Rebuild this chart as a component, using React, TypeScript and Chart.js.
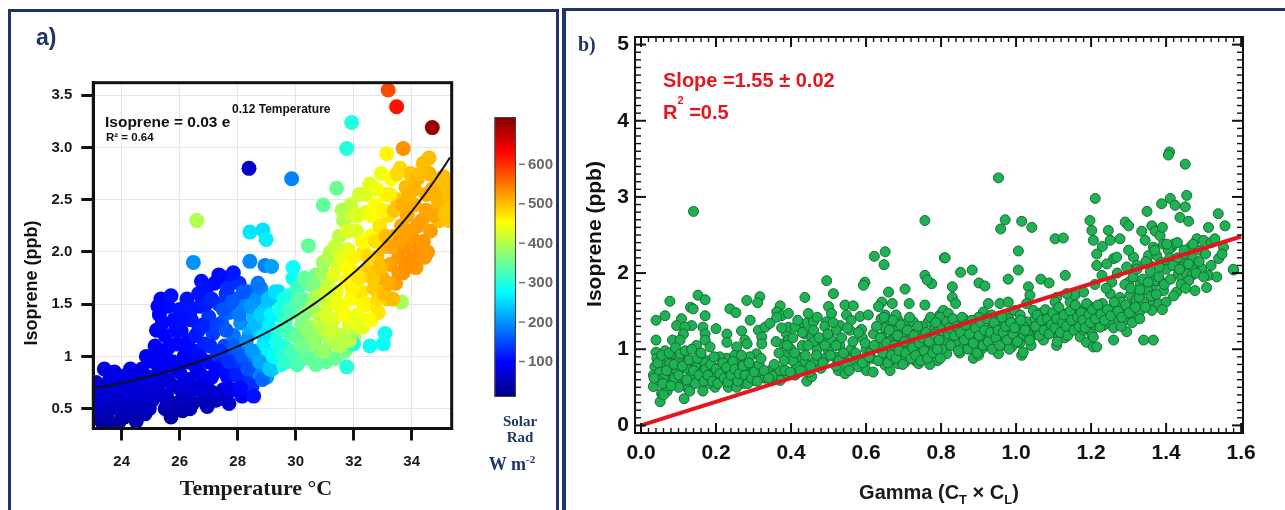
import React, { useEffect, useRef } from "react";
import { Chart, registerables } from "chart.js";

Chart.register(...registerables);

const SANS = "'Liberation Sans', Arial, Helvetica, sans-serif";
const SERIF = "'Liberation Serif', 'Times New Roman', serif";
const NAVY = "#1f3468";
const RED = "rgb(228,22,30)";

// ---------- Panel a: isoprene vs temperature, coloured by solar radiation ----------
const temperatureC = [
  23.10, 23.15, 23.12, 23.30, 23.35, 23.40, 23.30,
  23.65, 23.70, 23.75, 23.90, 23.95, 24.00, 24.05, 24.15, 24.20,
  24.35, 24.40, 24.45, 24.55, 24.60, 24.70, 24.75, 24.85, 24.90, 24.80,
  25.00, 25.05, 25.10, 25.15, 25.20, 25.25, 25.30, 25.35, 25.40, 25.45, 25.50, 25.50, 25.55, 25.60, 25.60,
  25.70, 25.75, 25.80, 25.85, 25.90, 25.95, 26.00, 26.00, 26.05, 26.10, 26.15, 26.20, 26.25, 26.30, 26.30,
  26.40, 26.45, 26.50, 26.55, 26.60, 26.65, 26.70, 26.75, 26.80, 26.85, 26.90, 26.95, 27.00, 27.00,
  27.10, 27.15, 27.20, 27.25, 27.30, 27.35, 27.40, 27.45, 27.50, 27.55, 27.60, 27.60, 27.65, 27.70, 27.70,
  27.80, 27.85, 27.90, 27.95, 28.00, 28.05, 28.10, 28.15, 28.20, 28.25, 28.30, 28.35, 28.40, 28.40, 28.39,
  28.50, 28.55, 28.60, 28.65, 28.70, 28.75, 28.80, 28.85, 28.90, 28.95, 29.00, 29.05, 29.10, 28.42, 28.87, 28.98, 28.42, 28.94, 26.47, 26.59,
  29.20, 29.20, 29.25, 29.30, 29.35, 29.40, 29.45, 29.50, 29.55, 29.60, 29.65, 29.70, 29.75, 29.80, 29.17, 29.86, 29.91, 29.90,
  29.95, 30.00, 30.05, 30.10, 30.15, 30.20, 30.25, 30.30, 30.35, 30.40, 30.45, 30.50, 30.44,
  30.60, 30.65, 30.70, 30.75, 30.80, 30.85, 30.90, 30.95, 31.00, 31.05, 31.10, 31.15, 31.20, 31.20, 30.95, 31.41,
  31.30, 31.35, 31.40, 31.45, 31.50, 31.55, 31.60, 31.65, 31.70, 31.75, 31.80, 31.85, 31.90, 31.90, 31.76, 31.76, 31.93,
  32.00, 32.05, 32.10, 32.15, 32.20, 32.25, 32.30, 32.35, 32.40, 32.45, 32.50, 32.55, 32.60, 32.60, 31.99, 32.56,
  32.70, 32.75, 32.80, 32.85, 32.90, 32.95, 33.00, 33.05, 33.10, 33.15, 33.20, 33.25, 33.30, 33.14, 33.02, 33.08, 33.19, 33.48,
  33.40, 33.45, 33.50, 33.55, 33.60, 33.65, 33.70, 33.75, 33.80, 33.85, 33.90, 33.95, 34.00, 33.65, 33.71,
  34.10, 34.15, 34.20, 34.25, 34.35, 34.40, 34.45, 34.50, 34.60, 34.65, 34.71,
  34.80, 34.85, 34.95, 35.05, 35.10, 35.20, 35.25, 35.30,
  23.20, 23.25, 23.50, 23.55, 23.60, 23.80, 23.85, 23.45,
  24.10, 24.25, 24.30, 24.50, 24.50, 24.65, 24.70, 24.95,
  25.10, 25.20, 25.30, 25.25, 25.40, 25.45, 25.55, 25.60, 25.70, 25.75, 25.80, 25.85, 25.90,
  26.05, 26.10, 26.15, 26.20, 26.30, 26.35, 26.40, 26.45, 26.55, 26.60, 26.65, 26.70, 26.80, 26.85, 26.90, 26.95, 26.75,
  27.05, 27.10, 27.15, 27.25, 27.30, 27.35, 27.40, 27.45, 27.50, 27.55, 27.60, 27.65, 27.70, 27.75, 27.80, 27.85, 27.90, 27.95,
  28.05, 28.10, 28.15, 28.20, 28.30, 28.35, 28.45, 28.50, 28.55, 28.60, 28.70, 28.75, 28.80, 28.85, 28.90,
  29.05, 29.10, 29.15, 29.25, 29.30, 29.40, 29.45, 29.50, 29.60, 29.65, 29.70, 29.80, 29.85,
  30.00, 30.05, 30.10, 30.20, 30.25, 30.30, 30.40, 30.45, 30.55, 30.60, 30.65, 30.70, 30.80, 30.85, 30.90,
  31.00, 31.05, 31.10, 31.15, 31.25, 31.30, 31.35, 31.45, 31.50, 31.55, 31.60, 31.70, 31.75, 31.80, 31.85, 31.95, 31.95,
  32.00, 32.05, 32.15, 32.20, 32.30, 32.35, 32.40, 32.50, 32.55, 32.60, 32.65, 32.75, 32.80, 32.85, 32.90,
  33.00, 33.05, 33.10, 33.20, 33.25, 33.30, 33.35, 33.40, 33.50, 33.55, 33.60, 33.70, 33.80, 33.85, 33.90,
  34.05, 34.10, 34.20, 34.30, 34.40, 34.50, 34.55, 34.70, 34.75, 34.90, 35.00, 35.15, 35.30, 34.60,
];

const isopreneA = [
  0.45, 0.60, 0.75, 0.52, 0.68, 0.88, 0.38,
  0.55, 0.72, 0.85, 0.37, 0.48, 0.62, 0.75, 0.82, 0.55,
  0.68, 0.50, 0.80, 0.62, 0.72, 0.88, 0.55, 1.00, 0.68, 0.45,
  0.80, 0.58, 0.95, 1.10, 1.25, 0.70, 1.40, 1.55, 0.88, 1.05, 0.50, 1.20, 0.62, 1.48, 0.78,
  0.42, 0.95, 1.35, 0.55, 1.12, 0.70, 1.45, 0.85, 1.25, 0.48, 1.00, 0.62, 1.55, 0.78, 1.15,
  1.35, 0.55, 0.92, 1.05, 0.70, 1.25, 1.48, 0.82, 0.58, 1.12, 1.62, 0.95, 1.38, 0.68,
  0.80, 1.22, 1.70, 0.58, 1.02, 1.50, 0.90, 1.32, 0.68, 1.10, 1.75, 1.60, 0.80, 1.42, 0.55,
  1.00, 1.20, 0.68, 1.55, 0.88, 1.70, 1.32, 0.62, 1.08, 1.48, 0.78, 1.62, 1.22, 0.95, 2.80,
  0.72, 1.38, 1.05, 1.55, 0.85, 1.25, 1.65, 0.95, 1.12, 1.45, 0.80, 1.30, 1.02, 2.19, 2.21, 2.12, 1.91, 1.87, 1.90, 2.30,
  1.55, 0.88, 1.18, 1.40, 0.98, 1.62, 1.25, 0.92, 1.48, 1.10, 1.35, 0.95, 1.58, 1.22, 1.86, 2.70, 1.85, 1.75,
  1.02, 1.42, 1.65, 0.95, 1.18, 1.30, 1.55, 1.00, 1.42, 1.70, 1.12, 1.28, 2.06,
  0.98, 1.55, 1.78, 1.20, 1.40, 1.05, 1.65, 1.90, 1.28, 0.95, 1.50, 1.75, 1.15, 2.00, 2.45, 2.61,
  1.35, 0.98, 1.62, 1.88, 2.15, 1.20, 1.45, 2.30, 1.05, 1.72, 2.02, 1.30, 2.45, 1.55, 0.90, 2.99, 3.24,
  1.18, 1.80, 2.20, 1.40, 2.55, 1.62, 1.28, 2.00, 2.38, 1.50, 1.82, 2.65, 1.35, 2.15, 1.12, 1.10,
  1.65, 2.45, 1.95, 1.42, 2.25, 2.75, 1.75, 2.05, 2.55, 1.55, 2.35, 1.88, 2.70, 2.94, 1.12, 1.22, 3.55, 3.39,
  2.15, 1.70, 2.50, 1.95, 2.80, 2.25, 1.80, 2.05, 2.62, 2.35, 1.90, 2.75, 2.15, 1.52, 2.99,
  2.45, 1.85, 2.70, 2.05, 2.30, 2.85, 1.95, 2.55, 2.75, 2.20, 3.19,
  2.40, 2.65, 2.30, 2.55, 2.72, 2.42, 2.65, 2.30,
  0.58, 0.72, 0.45, 0.62, 0.80, 0.66, 0.52, 0.35,
  0.42, 0.65, 0.88, 0.38, 0.72, 0.58, 0.80, 0.50,
  0.68, 0.82, 1.00, 1.48, 1.32, 0.62, 0.95, 1.08, 1.58, 0.72, 0.48, 1.25, 0.88,
  0.58, 1.35, 0.75, 1.10, 0.95, 0.50, 1.45, 0.68, 1.20, 0.85, 1.60, 1.00, 1.30, 0.72, 1.50, 0.52, 1.72,
  1.10, 1.55, 0.65, 0.88, 1.30, 1.78, 1.05, 0.60, 1.45, 0.85, 1.25, 1.65, 0.95, 0.68, 1.52, 1.80, 1.10, 0.82,
  1.40, 0.70, 1.00, 1.62, 1.15, 0.88, 1.48, 1.05, 0.62, 1.30, 1.70, 0.95, 1.40, 0.78, 1.20,
  1.55, 0.88, 1.40, 1.00, 1.62, 1.12, 1.45, 1.02, 1.55, 0.95, 1.25, 1.45, 1.05,
  1.20, 0.92, 1.55, 1.10, 1.40, 1.75, 1.25, 0.98, 1.48, 1.68, 1.15, 0.92, 1.58, 1.30, 1.80,
  1.05, 1.62, 1.38, 1.95, 1.25, 1.78, 2.05, 1.50, 1.10, 1.95, 2.40, 1.40, 1.85, 2.20, 1.15, 1.65, 2.35,
  1.95, 1.35, 2.35, 1.75, 2.10, 1.50, 2.55, 1.95, 1.35, 2.35, 1.75, 2.10, 2.60, 1.55, 1.85,
  2.40, 1.60, 2.15, 1.70, 2.55, 2.05, 1.55, 2.40, 2.75, 1.80, 2.10, 2.45, 1.85, 2.20, 2.55,
  1.95, 2.60, 2.25, 2.75, 2.10, 2.40, 2.00, 2.60, 2.35, 2.50, 2.70, 2.35, 2.55, 2.90,
];

// solar radiation, W m-2
const solarRad = [
  60, 70, 75, 55, 70, 80, 45,
  60, 75, 80, 40, 55, 65, 75, 80, 60,
  70, 55, 80, 65, 75, 85, 60, 90, 70, 50,
  80, 60, 90, 95, 100, 70, 100, 100, 85, 95, 45, 100, 60, 105, 75,
  35, 90, 105, 50, 100, 70, 110, 85, 105, 40, 95, 60, 110, 80, 105,
  115, 50, 95, 105, 70, 120, 115, 90, 55, 120, 110, 105, 135, 70,
  95, 140, 105, 55, 130, 135, 115, 160, 80, 150, 110, 135, 105, 170, 60,
  150, 180, 95, 160, 140, 130, 200, 90, 185, 190, 130, 170, 220, 180, 60,
  130, 230, 230, 200, 190, 250, 190, 230, 265, 240, 210, 270, 270, 260, 255, 265, 195, 190, 200, 400,
  250, 250, 290, 280, 285, 260, 305, 300, 300, 315, 320, 315, 300, 335, 210, 190, 280, 285,
  330, 345, 320, 330, 355, 365, 350, 345, 375, 345, 370, 390, 345,
  350, 385, 360, 395, 410, 370, 400, 385, 420, 345, 425, 410, 400, 400, 345, 350,
  430, 350, 440, 425, 410, 410, 445, 400, 360, 455, 440, 430, 415, 455, 300, 300, 300,
  400, 465, 430, 450, 420, 470, 435, 470, 440, 470, 490, 435, 450, 455, 290, 285,
  490, 450, 500, 470, 470, 445, 510, 505, 460, 490, 475, 515, 455, 460, 280, 285, 580, 620,
  510, 520, 495, 525, 480, 515, 525, 530, 500, 515, 530, 495, 525, 390, 530,
  510, 525, 505, 530, 520, 500, 525, 510, 505, 520, 700,
  505, 505, 500, 500, 500, 495, 500, 495,
  65, 72, 50, 65, 78, 68, 55, 40,
  45, 68, 82, 42, 72, 60, 80, 52,
  70, 82, 92, 100, 102, 62, 92, 98, 108, 70, 45, 105, 88,
  55, 108, 75, 102, 95, 45, 112, 68, 115, 85, 112, 102, 122, 72, 118, 50, 110,
  125, 125, 65, 100, 145, 105, 130, 62, 155, 105, 160, 130, 130, 85, 160, 115, 165, 120,
  185, 105, 160, 160, 200, 155, 205, 205, 110, 230, 180, 215, 245, 170, 260,
  235, 240, 270, 275, 255, 295, 295, 300, 295, 310, 325, 325, 325,
  345, 330, 340, 355, 365, 345, 375, 345, 385, 365, 380, 345, 400, 405, 385,
  380, 420, 430, 400, 420, 435, 415, 445, 400, 435, 400, 450, 455, 430, 405, 460, 420,
  460, 440, 430, 470, 455, 460, 430, 480, 450, 450, 490, 475, 445, 480, 500,
  460, 500, 500, 510, 465, 515, 500, 495, 480, 525, 520, 510, 530, 520, 505,
  530, 505, 520, 500, 525, 515, 525, 510, 515, 505, 500, 495, 500, 500,
];

const tempTicks = [24, 26, 28, 30, 32, 34];
const isoTicksA = [0.5, 1, 1.5, 2, 2.5, 3, 3.5];
const isoTickLabelsA = ["0.5", "1", "1.5", "2.0", "2.5", "3.0", "3.5"];
const radTicks = [100, 200, 300, 400, 500, 600];
const radRange = [10, 720];

// exponential trend line through the cloud
const trendOffset = 0.4;
const trendScale = 0.29;
const trendRate = 0.175;
const trendT0 = 23;

// ---------- Panel b: isoprene vs emission activity factor ----------
const gamma = [
  0.14, 0.152, 0.171, 0.077, 0.132, 0.139, 0.064, 0.04, 0.171, 0.237,
  0.253, 0.282, 0.317, 0.311, 0.371, 0.362, 0.375, 0.291, 0.108, 0.135,
  0.095, 0.117, 0.165, 0.171, 0.2, 0.229, 0.268, 0.277, 0.283, 0.313,
  0.322, 0.331, 0.344, 0.362, 0.379, 0.388, 0.393, 0.04, 0.084, 0.113,
  0.104, 0.148, 0.171, 0.184, 0.229, 0.255,

  0.040, 0.042, 0.037, 0.033, 0.033, 0.055, 0.051, 0.064, 0.069, 0.060,
  0.077, 0.086, 0.082, 0.073, 0.095, 0.113, 0.117, 0.131, 0.135, 0.126,
  0.115, 0.148, 0.153, 0.166, 0.175, 0.184, 0.193, 0.197, 0.211, 0.215,
  0.229, 0.237, 0.233, 0.255, 0.264, 0.277, 0.282, 0.273, 0.295, 0.300,
  0.304, 0.308, 0.322, 0.335, 0.344, 0.362, 0.371, 0.388, 0.371, 0.348,
  0.255, 0.180, 0.095, 0.05, 0.06, 0.09, 0.10, 0.12, 0.14, 0.16,
  0.20, 0.22, 0.24, 0.26, 0.28, 0.29, 0.31, 0.33, 0.35, 0.10,
  0.07, 0.06, 0.13, 0.165, 0.17, 0.21, 0.25, 0.045, 0.035,

  0.757, 0.622, 0.651, 0.648, 0.809, 0.757, 0.775, 0.763, 0.597, 0.593,
  0.495, 0.513, 0.437, 0.660, 0.704, 0.715, 0.757, 0.670, 0.642, 0.500,
  0.544, 0.566, 0.393, 0.446, 0.442, 0.420, 0.460, 0.508, 0.495, 0.548,
  0.531, 0.557, 0.584, 0.606, 0.588, 0.633, 0.651, 0.664, 0.677, 0.686,
  0.700, 0.713, 0.726, 0.740, 0.766, 0.797, 0.437, 0.411, 0.455, 0.482,
  0.508, 0.393, 0.642, 0.668, 0.695, 0.722, 0.748, 0.775, 0.802, 0.389,
  0.420, 0.437, 0.464, 0.491, 0.517, 0.544, 0.562, 0.571, 0.597, 0.615,
  0.642, 0.660, 0.677, 0.695, 0.713, 0.731, 0.757, 0.784, 0.802, 0.384,
  0.411, 0.442, 0.455, 0.526, 0.544, 0.579, 0.601, 0.619, 0.651, 0.664,
  0.686, 0.704, 0.740, 0.40, 0.43, 0.47, 0.50, 0.53, 0.56, 0.60,
  0.63, 0.65, 0.67, 0.69, 0.71, 0.73, 0.75, 0.68, 0.72, 0.66,
  0.70, 0.74, 0.62, 0.61, 0.58, 0.55, 0.52, 0.48, 0.46, 0.45,
  0.415, 0.405, 0.52, 0.49, 0.47, 0.56, 0.59, 0.64, 0.76, 0.78,
  0.79, 0.80, 0.78, 0.77,

  0.953, 0.971, 0.959, 1.015, 1.042, 1.104, 1.126, 0.811, 1.006, 1.006,
  0.852, 0.883, 0.830, 0.901, 0.917, 0.979, 1.033, 1.066, 1.088, 1.131,
  0.830, 0.839, 0.957, 0.926, 0.979, 1.037, 1.028, 1.108, 1.104, 1.144,
  1.157, 1.135, 0.806, 0.819, 0.797, 0.913, 0.935, 0.953, 0.979, 0.997,
  1.011, 1.046, 1.064, 1.091, 1.113, 1.135, 1.171, 1.193, 0.815, 0.850,
  0.877, 0.904, 0.931, 0.948, 0.975, 1.002, 1.028, 1.046, 1.064, 1.082,
  1.117, 1.144, 1.162, 1.188, 1.206, 0.859, 0.895, 0.922, 0.966, 0.988,
  1.019, 1.046, 1.073, 1.108, 1.144, 1.171, 1.202, 0.850, 0.855, 0.886,
  0.908, 0.953, 0.988, 1.015, 1.019, 1.108, 1.188, 1.206, 0.811, 0.815,
  0.802, 0.82, 0.84, 0.86, 0.88, 0.89, 0.90, 0.92, 0.94, 0.96,
  0.97, 0.98, 0.99, 1.00, 1.01, 1.03, 1.05, 1.06, 1.07, 1.08,
  1.09, 1.10, 1.12, 1.13, 1.14, 1.15, 1.16, 1.17, 1.18, 1.19,
  1.20, 0.93, 0.87, 0.85, 0.90, 1.02, 1.04, 1.11,

  1.409, 1.406, 1.451, 1.211, 1.411, 1.455, 1.388, 1.424, 1.451, 1.437,
  1.460, 1.349, 1.539, 1.513, 1.557, 1.197, 1.202, 1.246, 1.291, 1.300,
  1.335, 1.362, 1.371, 1.384, 1.206, 1.251, 1.277, 1.344, 1.366, 1.393,
  1.415, 1.420, 1.482, 1.500, 1.553, 1.215, 1.260, 1.268, 1.313, 1.353,
  1.375, 1.406, 1.442, 1.464, 1.540, 1.549, 1.215, 1.242, 1.295, 1.322,
  1.353, 1.388, 1.406, 1.446, 1.469, 1.495, 1.580, 1.229, 1.255, 1.300,
  1.331, 1.366, 1.384, 1.393, 1.433, 1.442, 1.455, 1.469, 1.513, 1.477,
  1.508, 1.251, 1.277, 1.304, 1.331, 1.357, 1.380, 1.362, 1.428, 1.197,
  1.224, 1.260, 1.286, 1.313, 1.233, 1.224, 1.206, 1.215, 1.260, 1.295,
  1.340, 1.366, 1.579, 1.17, 1.19, 1.21, 1.22, 1.23, 1.24, 1.25,
  1.26, 1.27, 1.28, 1.29, 1.30, 1.31, 1.32, 1.33, 1.34, 1.35,
  1.36, 1.37, 1.38, 1.29, 1.27, 1.24, 1.21, 1.18, 1.23, 1.30,
  1.40, 1.41, 1.39, 1.43, 1.45, 1.47, 1.49, 1.52, 1.53, 1.46,
  1.48, 1.50, 1.44, 1.42, 1.40, 1.39, 1.26, 1.28, 1.31, 1.33,

  0.045, 0.055, 0.058, 0.068, 0.075, 0.08, 0.088, 0.092, 0.1, 0.105,
  0.11, 0.118, 0.122, 0.128, 0.135, 0.14, 0.145, 0.15, 0.155, 0.16,
  0.168, 0.172, 0.178, 0.186, 0.19, 0.195, 0.2, 0.205, 0.21, 0.218,
  0.222, 0.228, 0.232, 0.24, 0.245, 0.25, 0.258, 0.262, 0.268, 0.272,
  0.278, 0.285, 0.288, 0.295, 0.302, 0.31, 0.315, 0.32, 0.328, 0.34,

  0.355, 0.36, 0.368, 0.375, 0.382, 0.39, 0.398, 0.405, 0.41, 0.418,
  0.425, 0.43, 0.438, 0.445, 0.452, 0.46, 0.468, 0.475, 0.485, 0.49,
  0.498, 0.505, 0.512, 0.52, 0.528, 0.535, 0.54, 0.55, 0.555, 0.565,
  0.572, 0.58, 0.59, 0.598, 0.608,

  0.622, 0.628, 0.632, 0.638, 0.645, 0.648, 0.655, 0.658, 0.662, 0.668,
  0.672, 0.675, 0.68, 0.684, 0.688, 0.692, 0.698, 0.702, 0.706, 0.71,
  0.716, 0.72, 0.724, 0.728, 0.732, 0.738, 0.742, 0.746, 0.75, 0.755,
  0.76, 0.764, 0.768, 0.772, 0.778, 0.782, 0.786, 0.79, 0.795, 0.798,

  0.822, 0.826, 0.832, 0.836, 0.842, 0.846, 0.852, 0.856, 0.862, 0.866,
  0.872, 0.876, 0.882, 0.886, 0.892, 0.896, 0.902, 0.906, 0.912, 0.916,
  0.922, 0.926, 0.932, 0.936, 0.942, 0.946, 0.952, 0.956, 0.962, 0.966,
  0.972, 0.976, 0.982, 0.986, 0.992, 0.996, 1.004, 1.012, 1.024, 1.036,

  1.052, 1.056, 1.062, 1.068, 1.074, 1.078, 1.084, 1.088, 1.094, 1.098,
  1.104, 1.108, 1.114, 1.118, 1.124, 1.128, 1.134, 1.138, 1.144, 1.148,
  1.154, 1.158, 1.164, 1.168, 1.174, 1.178, 1.184, 1.188, 1.194, 1.198,
  1.204, 1.212, 1.218, 1.226, 1.236, 1.244, 1.252, 1.262, 1.272, 1.282,
  1.292, 1.302, 1.318, 1.328, 1.345,

  1.305, 1.312, 1.322, 1.33, 1.338, 1.346, 1.352, 1.358, 1.37, 1.374,
  1.382, 1.395, 1.402, 1.412, 1.418, 1.43, 1.436, 1.448, 1.452, 1.46,
  1.472, 1.488, 1.505, 1.52, 1.535,
];

const isopreneB = [
  2.81, 1.71, 1.65, 1.63, 1.55, 1.53, 1.44, 1.38, 1.44, 1.53,
  1.48, 1.64, 1.69, 1.61, 1.57, 1.49, 1.44, 1.38, 1.40, 1.31,
  1.31, 1.29, 1.29, 1.20, 1.27, 1.20, 1.24, 1.12, 1.07, 1.25,
  1.16, 1.29, 1.34, 1.42, 1.07, 1.20, 1.29, 1.12, 1.12, 1.20,
  1.12, 1.05, 1.12, 1.03, 1.09, 1.03,

  0.96, 0.88, 0.77, 0.66, 0.51, 0.42, 0.31, 0.98, 0.90, 0.77,
  0.81, 0.94, 0.68, 0.59, 0.72, 0.90, 0.59, 0.85, 0.68, 0.48,
  0.35, 0.77, 0.59, 0.72, 0.85, 0.64, 0.72, 0.50, 0.77, 0.61,
  0.88, 0.72, 0.50, 0.64, 0.81, 0.85, 0.72, 0.55, 0.68, 0.77,
  0.59, 0.94, 1.07, 0.68, 0.72, 0.68, 0.72, 0.68, 0.59, 0.59,
  0.50, 0.55, 0.55, 0.70, 0.62, 0.62, 0.85, 0.75, 0.62, 0.68,
  0.65, 0.70, 0.60, 0.75, 0.60, 0.90, 0.68, 0.62, 0.65, 0.50,
  0.45, 0.40, 0.45, 0.45, 0.82, 0.90, 0.92, 0.60, 0.62,

  2.69, 2.22, 2.28, 2.11, 2.20, 1.97, 1.86, 1.91, 1.88, 1.84,
  1.90, 1.73, 1.68, 1.75, 1.79, 1.60, 1.58, 1.60, 1.62, 1.56,
  1.58, 1.57, 1.47, 1.47, 1.34, 1.31, 1.36, 1.47, 1.36, 1.45,
  1.31, 1.25, 1.43, 1.45, 1.26, 1.56, 1.45, 1.34, 1.24, 1.38,
  1.27, 1.36, 1.36, 1.24, 1.36, 1.45, 1.20, 1.29, 1.16, 1.12,
  1.12, 1.12, 1.16, 1.12, 1.16, 1.07, 1.12, 1.12, 1.20, 0.94,
  0.90, 0.83, 0.85, 0.88, 0.90, 0.94, 0.97, 0.85, 0.81, 0.88,
  0.85, 0.94, 0.85, 0.90, 0.94, 0.85, 0.90, 0.90, 0.94, 0.72,
  0.66, 0.58, 0.64, 0.72, 0.68, 0.77, 0.72, 0.70, 0.79, 0.72,
  0.81, 0.83, 0.81, 1.00, 1.05, 1.00, 0.98, 1.05, 1.00, 1.00,
  1.05, 1.28, 1.00, 1.05, 0.98, 1.00, 1.30, 1.45, 1.20, 1.10,
  0.90, 0.95, 1.20, 0.95, 0.88, 0.80, 0.78, 0.75, 1.10, 0.70,
  0.78, 0.85, 1.25, 1.30, 1.42, 1.38, 1.15, 1.40, 1.00, 1.05,
  0.85, 1.30, 1.25, 0.80,

  3.25, 2.70, 2.58, 2.68, 2.60, 2.45, 2.46, 2.20, 2.29, 2.04,
  2.01, 2.04, 1.82, 1.87, 1.83, 1.92, 1.82, 1.92, 1.87, 1.97,
  1.68, 1.60, 1.60, 1.60, 1.62, 1.71, 1.60, 1.68, 1.62, 1.62,
  1.71, 1.73, 1.51, 1.47, 1.42, 1.49, 1.45, 1.38, 1.45, 1.51,
  1.45, 1.51, 1.47, 1.47, 1.43, 1.47, 1.51, 1.43, 1.36, 1.29,
  1.25, 1.31, 1.27, 1.20, 1.29, 1.34, 1.36, 1.27, 1.36, 1.31,
  1.29, 1.34, 1.38, 1.36, 1.31, 1.16, 1.12, 1.16, 1.14, 1.23,
  1.16, 1.18, 1.12, 1.20, 1.25, 1.16, 1.20, 0.98, 1.05, 0.88,
  1.00, 0.94, 1.03, 0.92, 0.96, 1.05, 1.09, 1.03, 1.12, 0.94,
  1.00, 1.20, 1.10, 1.40, 1.35, 1.18, 1.42, 1.22, 1.30, 1.35,
  1.05, 1.40, 1.18, 1.25, 1.08, 1.22, 1.40, 1.20, 1.30, 1.45,
  1.22, 1.38, 1.40, 1.15, 1.42, 1.28, 1.45, 1.35, 1.25, 1.55,
  1.40, 1.12, 1.08, 0.95, 0.92, 1.30, 1.05, 1.10,

  3.59, 3.55, 3.43, 2.98, 2.98, 3.02, 2.91, 2.89, 2.87, 2.73,
  2.68, 2.81, 2.78, 2.60, 2.62, 2.69, 2.56, 2.56, 2.67, 2.62,
  2.55, 2.62, 2.55, 2.49, 2.43, 2.43, 2.45, 2.43, 2.34, 2.38,
  2.34, 2.38, 2.45, 2.43, 2.34, 2.25, 2.19, 2.21, 2.21, 2.23,
  2.23, 2.30, 2.17, 2.34, 2.19, 2.25, 2.10, 2.12, 2.08, 2.10,
  2.12, 2.14, 2.14, 2.08, 2.10, 2.06, 2.04, 1.97, 1.88, 1.88,
  1.86, 1.84, 1.90, 1.77, 1.99, 1.93, 1.99, 1.97, 1.97, 1.77,
  1.81, 1.73, 1.68, 1.71, 1.73, 1.64, 1.60, 1.51, 1.75, 1.56,
  1.53, 1.42, 1.51, 1.60, 1.31, 1.29, 1.16, 1.03, 1.12, 1.23,
  1.12, 1.12, 2.05, 1.45, 1.38, 1.48, 1.42, 1.60, 1.45, 1.35,
  1.55, 1.42, 1.62, 1.38, 1.55, 1.45, 1.65, 1.50, 1.62, 1.78,
  1.70, 1.90, 1.95, 1.85, 2.00, 1.80, 1.85, 1.75, 2.35, 2.30,
  2.05, 2.20, 2.60, 2.20, 2.25, 2.20, 2.30, 2.40, 2.45, 1.90,
  2.00, 1.95, 1.85, 1.70, 1.62, 1.52, 1.28, 1.30, 1.35, 1.40,

  0.82, 0.92, 0.55, 0.72, 0.95, 0.52, 0.80, 1.02, 0.66, 0.94,
  0.78, 0.98, 0.60, 0.86, 1.00, 0.72, 0.55, 0.88, 0.66, 0.95,
  0.58, 0.74, 0.66, 0.80, 0.58, 0.90, 0.74, 0.55, 0.68, 0.82,
  0.62, 0.76, 0.57, 0.66, 0.84, 0.74, 0.58, 0.68, 0.92, 0.78,
  0.66, 0.55, 0.82, 0.62, 0.70, 0.58, 0.80, 0.88, 0.72, 0.62,

  0.80, 1.10, 0.95, 1.28, 0.85, 1.05, 0.70, 1.15, 0.95, 1.38,
  0.72, 1.22, 0.92, 1.05, 0.78, 1.25, 0.92, 1.15, 0.82, 1.05,
  1.20, 0.92, 1.35, 1.05, 0.85, 1.15, 0.95, 1.28, 0.72, 1.10,
  0.95, 1.22, 0.82, 1.08, 0.90,

  1.05, 1.30, 0.85, 1.15, 0.95, 1.42, 1.08, 0.82, 1.25, 0.92,
  1.38, 1.05, 0.88, 1.18, 0.98, 1.32, 0.80, 1.10, 0.95, 1.25,
  1.42, 0.88, 1.02, 1.18, 0.92, 1.30, 1.08, 0.85, 1.15, 0.98,
  1.22, 0.88, 1.10, 1.42, 0.95, 1.20, 1.35, 1.00, 1.12, 0.88,

  1.28, 1.05, 1.40, 1.18, 1.30, 0.98, 1.22, 1.42, 1.12, 1.32,
  1.00, 1.20, 1.38, 1.08, 1.28, 0.95, 1.18, 1.35, 1.05, 1.25,
  1.40, 1.10, 1.22, 1.00, 1.35, 1.15, 1.25, 1.05, 1.42, 1.22,
  1.30, 1.12, 1.00, 1.35, 1.20, 1.28, 1.10, 1.38, 1.25, 1.12,

  1.30, 1.45, 1.18, 1.38, 1.25, 1.52, 1.40, 1.20, 1.32, 1.48,
  1.28, 1.40, 1.55, 1.22, 1.35, 1.45, 1.30, 1.18, 1.50, 1.38,
  1.25, 1.58, 1.42, 1.30, 1.48, 1.38, 1.28, 1.60, 1.45, 1.35,
  1.52, 1.40, 1.58, 1.46, 1.38, 1.52, 1.44, 1.62, 1.50, 1.42,
  1.58, 1.48, 1.55, 1.68, 1.55,

  1.80, 1.95, 2.05, 1.78, 1.92, 2.15, 1.88, 2.02, 2.30, 1.72,
  2.08, 1.85, 2.38, 1.92, 2.10, 2.40, 2.05, 2.30, 1.80, 2.12,
  2.38, 2.15, 2.25, 2.10, 1.95,
];

const gammaTicks = [0, 0.2, 0.4, 0.6, 0.8, 1.0, 1.2, 1.4, 1.6];
const gammaTickLabels = ["0.0", "0.2", "0.4", "0.6", "0.8", "1.0", "1.2", "1.4", "1.6"];
const isoTicksB = [0, 1, 2, 3, 4, 5];
const minorPerMajorX = 10;
const minorPerMajorY = 10;
const slope = 1.55;
const fitGamma = [0, 1.6];

// jet colour map, t in [0, 1]
function jet(t: number) {
  const c = (v: number) => Math.round(255 * Math.max(0, Math.min(1, v)));
  return `rgb(${c(1.5 - Math.abs(4 * t - 3))},${c(1.5 - Math.abs(4 * t - 2))},${c(1.5 - Math.abs(4 * t - 1))})`;
}
const radColor = (r: number) => jet((r - radRange[0]) / (radRange[1] - radRange[0]));

const fixedTicks = (values: number[]) => (scale: any) => {
  scale.ticks = values.map((v) => ({ value: v }));
};

// black frame drawn on top of the markers (panel a)
const frameA = {
  id: "frameA",
  afterDatasetsDraw(chart: any) {
    const { ctx, chartArea: a } = chart;
    ctx.save();
    ctx.strokeStyle = "#111";
    ctx.lineWidth = 3;
    ctx.strokeRect(a.left, a.top, a.right - a.left, a.bottom - a.top);
    ctx.restore();
  },
};

// colour bar for solar radiation (panel a)
const colorbar = {
  id: "colorbar",
  afterDraw(chart: any) {
    const ctx = chart.ctx;
    const x0 = 494.5, x1 = 516, top = 117, bottom = 397;
    const [lo, hi] = radRange;
    const py = (v: number) => bottom - ((v - lo) / (hi - lo)) * (bottom - top);
    const g = ctx.createLinearGradient(0, bottom, 0, top);
    for (let i = 0; i <= 40; i++) g.addColorStop(i / 40, jet(i / 40));
    ctx.save();
    ctx.fillStyle = g;
    ctx.fillRect(x0, top, x1 - x0, bottom - top);
    ctx.strokeStyle = "#444";
    ctx.lineWidth = 1;
    ctx.strokeRect(x0 + 0.5, top + 0.5, x1 - x0 - 1, bottom - top - 1);
    ctx.font = `bold 15px ${SANS}`;
    ctx.fillStyle = "#666";
    ctx.textBaseline = "middle";
    ctx.textAlign = "left";
    ctx.strokeStyle = "#777";
    ctx.lineWidth = 1.5;
    radTicks.forEach((v) => {
      const y = py(v);
      ctx.beginPath();
      ctx.moveTo(519, y);
      ctx.lineTo(525, y);
      ctx.stroke();
      ctx.fillText(String(v), 528, y + 0.5);
    });
    ctx.restore();
  },
};

// frame with inward major/minor ticks on all four sides (panel b)
const frameB = {
  id: "frameB",
  afterDatasetsDraw(chart: any) {
    const { ctx, chartArea: a, scales } = chart;
    const xs = scales.x, ys = scales.y;
    ctx.save();
    ctx.strokeStyle = "#111";
    const seg = (x1: number, y1: number, x2: number, y2: number, w: number) => {
      ctx.lineWidth = w;
      ctx.beginPath();
      ctx.moveTo(x1, y1);
      ctx.lineTo(x2, y2);
      ctx.stroke();
    };
    const xStep = (gammaTicks[1] - gammaTicks[0]) / minorPerMajorX;
    const nX = Math.round((gammaTicks[gammaTicks.length - 1] - gammaTicks[0]) / xStep);
    for (let i = 0; i <= nX; i++) {
      const major = i % minorPerMajorX === 0;
      const px = xs.getPixelForValue(gammaTicks[0] + i * xStep);
      const L = major ? 10 : 5;
      const w = major ? 2 : 1.4;
      seg(px, a.bottom, px, a.bottom - L, w);
      seg(px, a.top, px, a.top + L, w);
    }
    const yStep = (isoTicksB[1] - isoTicksB[0]) / minorPerMajorY;
    const nY = Math.round((isoTicksB[isoTicksB.length - 1] - isoTicksB[0]) / yStep);
    for (let i = 0; i <= nY; i++) {
      const major = i % minorPerMajorY === 0;
      const py = ys.getPixelForValue(isoTicksB[0] + i * yStep);
      const L = major ? 11 : 6;
      const w = major ? 2 : 1.4;
      seg(a.left, py, a.left + L, py, w);
      seg(a.right, py, a.right - L, py, w);
    }
    ctx.lineWidth = 2;
    ctx.strokeRect(a.left, a.top, a.right - a.left, a.bottom - a.top);
    ctx.restore();
  },
};

type LabelProps = {
  x: number;
  base: number;
  size: number;
  serif?: boolean;
  color?: string;
  center?: boolean;
  children: React.ReactNode;
};

function Label({ x, base, size, serif, color = "#111", center, children }: LabelProps) {
  const k = serif ? 0.8375 : 0.8465;
  return (
    <div
      style={{
        position: "absolute",
        left: x,
        top: base - k * size,
        fontSize: size,
        lineHeight: `${size}px`,
        fontFamily: serif ? SERIF : SANS,
        fontWeight: 700,
        color,
        whiteSpace: "nowrap",
        transform: center ? "translateX(-50%)" : undefined,
      }}
    >
      {children}
    </div>
  );
}

function VLabel({ cx, cy, size, children }: { cx: number; cy: number; size: number; children: React.ReactNode }) {
  return (
    <div
      style={{
        position: "absolute",
        left: cx,
        top: cy,
        fontSize: size,
        lineHeight: `${size}px`,
        fontFamily: SANS,
        fontWeight: 700,
        color: "#111",
        whiteSpace: "nowrap",
        transform: "translate(-50%, -50%) rotate(-90deg)",
      }}
    >
      {children}
    </div>
  );
}

export default function App() {
  const refA = useRef<HTMLCanvasElement | null>(null);
  const refB = useRef<HTMLCanvasElement | null>(null);

  useEffect(() => {
    if (!refA.current || !refB.current) return;

    const xMinA = 23.02, xMaxA = 35.38;
    const trend: { x: number; y: number }[] = [];
    for (let t = xMinA; t <= xMaxA + 1e-9; t += 0.1) {
      trend.push({ x: t, y: trendOffset + trendScale * Math.exp(trendRate * (t - trendT0)) });
    }

    const tickFontA = { family: SANS, size: 15, weight: "bold" as const };

    const chartA = new Chart(refA.current, {
      type: "scatter",
      data: {
        datasets: [
          {
            type: "line",
            data: trend,
            borderColor: "#111",
            borderWidth: 2,
            pointRadius: 0,
            fill: false,
            tension: 0,
            order: 0,
            clip: 0,
          } as any,
          {
            type: "scatter",
            data: temperatureC.map((t, i) => ({ x: t, y: isopreneA[i] })),
            pointRadius: 7.5,
            pointBackgroundColor: solarRad.map(radColor),
            pointBorderWidth: 0,
            order: 1,
            clip: 0,
          } as any,
        ],
      },
      options: {
        responsive: false,
        animation: false,
        events: [],
        layout: { padding: { left: 0, top: 82.7, right: 108.3, bottom: 0 } },
        plugins: { legend: { display: false }, tooltip: { enabled: false } },
        scales: {
          x: {
            type: "linear",
            min: xMinA,
            max: xMaxA,
            afterBuildTicks: fixedTicks(tempTicks),
            afterFit: (s: any) => {
              s.height = 81.5;
            },
            ticks: {
              autoSkip: false,
              maxRotation: 0,
              padding: 12,
              color: "#1a1a1a",
              font: tickFontA,
              callback: (v: any) => String(v),
            },
            grid: { color: "#e6e6e6", lineWidth: 1, tickColor: "#111", tickWidth: 3, tickLength: 12 },
            border: { display: true, color: "#111", width: 3 },
          },
          y: {
            type: "linear",
            min: 0.31,
            max: 3.62,
            afterBuildTicks: fixedTicks(isoTicksA),
            afterFit: (s: any) => {
              s.width = 93.3;
            },
            ticks: {
              autoSkip: false,
              padding: 9,
              color: "#1a1a1a",
              font: tickFontA,
              callback: (v: any) => {
                const i = isoTicksA.indexOf(v);
                return i >= 0 ? isoTickLabelsA[i] : "";
              },
            },
            grid: { color: "#e6e6e6", lineWidth: 1, tickColor: "#111", tickWidth: 3, tickLength: 12 },
            border: { display: true, color: "#111", width: 3 },
          },
        },
      },
      plugins: [frameA, colorbar],
    });

    const tickFontB = { family: SANS, size: 21, weight: "bold" as const };

    const chartB = new Chart(refB.current, {
      type: "scatter",
      data: {
        datasets: [
          {
            type: "line",
            data: fitGamma.map((g) => ({ x: g, y: slope * g })),
            borderColor: RED,
            borderWidth: 4,
            pointRadius: 0,
            fill: false,
            order: 0,
            clip: 0,
          } as any,
          {
            type: "scatter",
            data: gamma.map((g, i) => ({ x: g, y: isopreneB[i] })),
            pointRadius: 5,
            pointBackgroundColor: "rgb(30,178,84)",
            pointBorderColor: "rgb(22,108,50)",
            pointBorderWidth: 1,
            order: 1,
            clip: 0,
          } as any,
        ],
      },
      options: {
        responsive: false,
        animation: false,
        events: [],
        layout: { padding: { left: 0, top: 37, right: 42, bottom: 0 } },
        plugins: { legend: { display: false }, tooltip: { enabled: false } },
        scales: {
          x: {
            type: "linear",
            min: -0.016,
            max: 1.605,
            afterBuildTicks: fixedTicks(gammaTicks),
            afterFit: (s: any) => {
              s.height = 77;
            },
            ticks: {
              autoSkip: false,
              maxRotation: 0,
              padding: 8,
              color: "#111",
              font: tickFontB,
              callback: (v: any) => {
                const i = gammaTicks.indexOf(v);
                return i >= 0 ? gammaTickLabels[i] : "";
              },
            },
            grid: { display: false, drawTicks: false },
            border: { display: false },
          },
          y: {
            type: "linear",
            min: -0.1,
            max: 5.1,
            afterBuildTicks: fixedTicks(isoTicksB),
            afterFit: (s: any) => {
              s.width = 73;
            },
            ticks: {
              autoSkip: false,
              padding: 6,
              color: "#111",
              font: tickFontB,
              callback: (v: any) => String(v),
            },
            grid: { display: false, drawTicks: false },
            border: { display: false },
          },
        },
      },
      plugins: [frameB],
    });

    return () => {
      chartA.destroy();
      chartB.destroy();
    };
  }, []);

  const sup = (size: number, shift: number): React.CSSProperties => ({
    fontSize: size,
    position: "relative",
    top: shift,
  });

  return (
    <div
      style={{
        position: "fixed",
        left: 0,
        top: 0,
        width: 1285,
        height: 510,
        background: "#fff",
        overflow: "hidden",
      }}
    >
      <div
        style={{
          position: "absolute",
          left: 8,
          top: 9,
          width: 551,
          height: 520,
          boxSizing: "border-box",
          borderTop: `3px solid ${NAVY}`,
          borderLeft: `3px solid ${NAVY}`,
          borderRight: `3px solid ${NAVY}`,
        }}
      />
      <div
        style={{
          position: "absolute",
          left: 562,
          top: 8,
          width: 740,
          height: 520,
          boxSizing: "border-box",
          borderTop: `3px solid ${NAVY}`,
          borderLeft: `4px solid ${NAVY}`,
        }}
      />

      <canvas ref={refA} width={560} height={510} style={{ position: "absolute", left: 0, top: 0 }} />
      <canvas ref={refB} width={723} height={510} style={{ position: "absolute", left: 562, top: 0 }} />

      {/* panel a */}
      <Label x={36} base={45} size={23} color={NAVY}>a)</Label>
      <Label x={105} base={127.5} size={15.5}>Isoprene = 0.03 e</Label>
      <Label x={232} base={113} size={12}>0.12 Temperature</Label>
      <Label x={106} base={142} size={11.5}>R² = 0.64</Label>
      <VLabel cx={31} cy={283} size={18}>Isoprene (ppb)</VLabel>
      <Label x={256} base={495} size={22} serif center color="#1a1a1a">Temperature °C</Label>
      <Label x={520} base={427} size={15} serif center color={NAVY}>Solar</Label>
      <Label x={520} base={443} size={15} serif center color={NAVY}>Rad</Label>
      <Label x={512} base={470} size={18} serif center color={NAVY}>
        W m<span style={sup(11, -7)}>-2</span>
      </Label>

      {/* panel b */}
      <Label x={578} base={51} size={20} serif color={NAVY}>b)</Label>
      <VLabel cx={593} cy={234} size={21}>Isoprene (ppb)</VLabel>
      <Label x={939} base={499} size={20} center color="#1a1a1a">
        Gamma (C<span style={sup(13, 5)}>T</span> × C<span style={sup(13, 5)}>L</span>)
      </Label>
      <Label x={663} base={87} size={20} color={RED}>Slope =1.55 ± 0.02</Label>
      <Label x={663} base={119} size={20} color={RED}>
        R<span style={sup(11, -15)}>2</span> =0.5
      </Label>
    </div>
  );
}
